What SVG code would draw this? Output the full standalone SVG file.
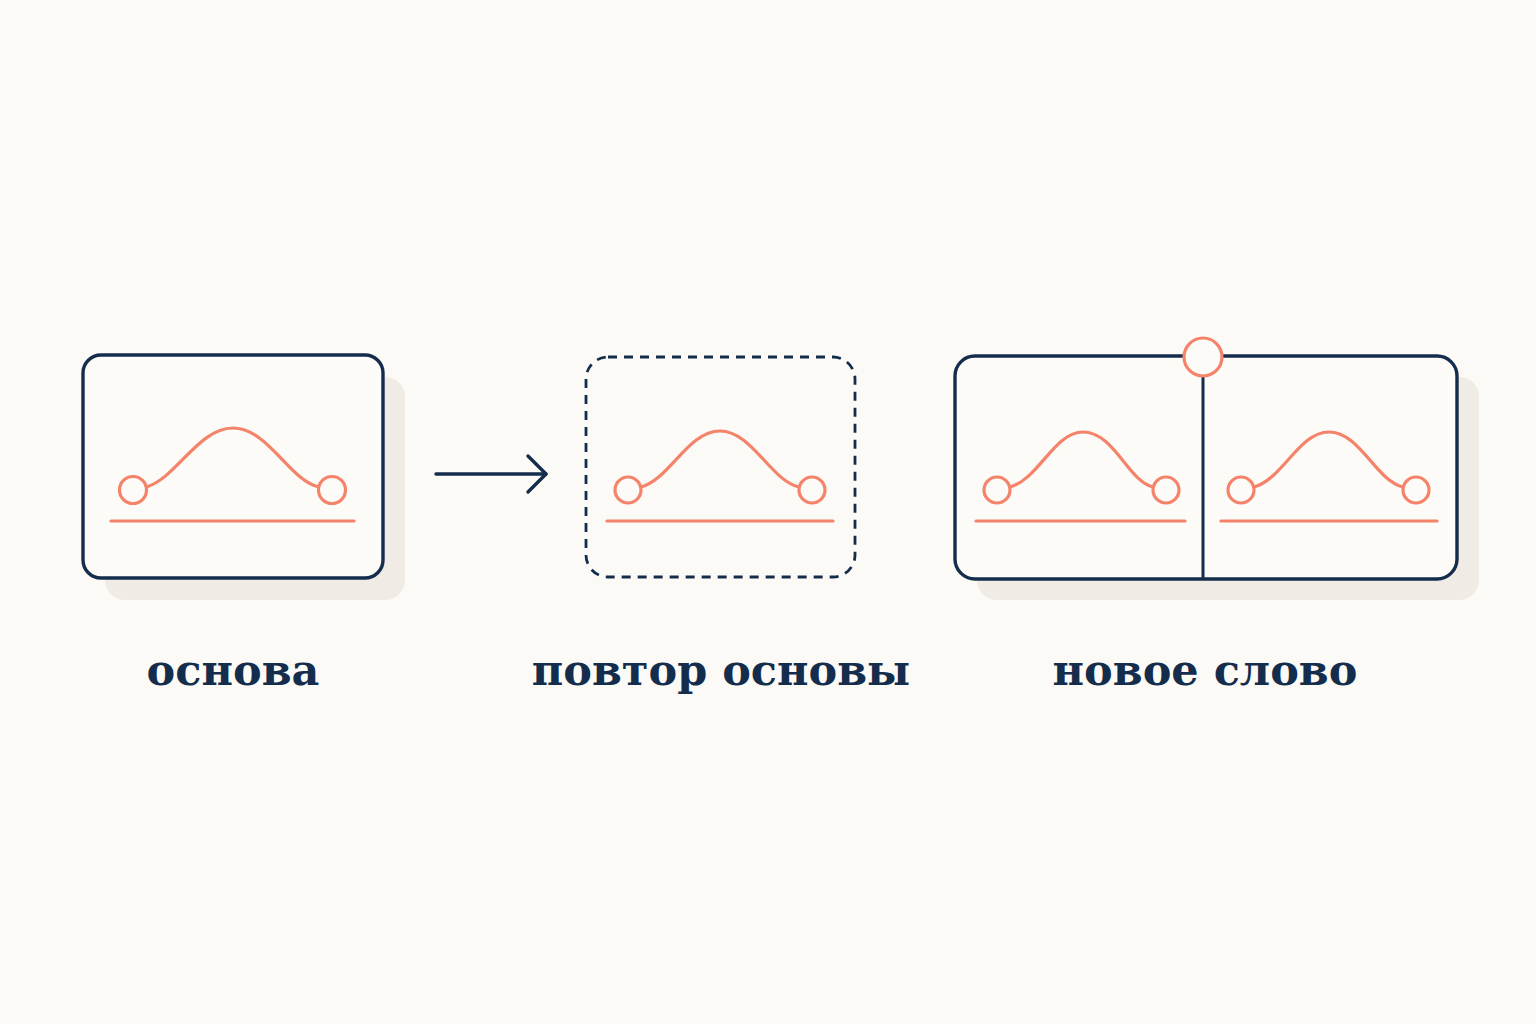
<svg xmlns="http://www.w3.org/2000/svg" width="1536" height="1024" viewBox="0 0 1536 1024">
<style>
.frame{fill:#fcfbf8;stroke:#152d4d;stroke-width:3.4}
.dash{fill:none;stroke:#152d4d;stroke-width:2.8;stroke-dasharray:9 7}
.shadow{fill:#f0ece5}
.coral{fill:none;stroke:#f5836a;stroke-width:3.2;stroke-linecap:round}
.dot{fill:#fcfbf8;stroke:#f5836a;stroke-width:3.2}
.lbl{font-family:"DejaVu Serif","Liberation Serif",serif;font-size:43px;font-weight:bold;fill:#152d4d;text-anchor:middle}
.conn{fill:none;stroke:#152d4d;stroke-width:3.4;stroke-linecap:round;stroke-linejoin:round}
</style>
<rect width="1536" height="1024" fill="#fbfaf6"/>
<g id="node-base">
<rect class="shadow" x="105" y="377" width="300" height="223" rx="20"/>
<rect class="frame" x="83" y="355" width="300" height="223" rx="18"/>
<path class="coral" d="M146,487 C176,479 198,428 233,428 C268,428 290,481 319,487"/>
<circle class="dot" cx="133" cy="490" r="13.5"/>
<circle class="dot" cx="332" cy="490" r="13.5"/>
<line class="coral" x1="111" y1="521" x2="354" y2="521"/>
<text class="lbl" x="233" y="685">основа</text>
</g>
<g id="node-repeat">
<rect class="dash" x="586" y="357" width="269" height="220" rx="22"/>
<path class="coral" d="M641,487 C670,479 688,431 720,431 C752,431 771,481 799,487"/>
<circle class="dot" cx="628" cy="490" r="13"/>
<circle class="dot" cx="812" cy="490" r="13"/>
<line class="coral" x1="607" y1="521" x2="833" y2="521"/>
<text class="lbl" x="721" y="685">повтор основы</text>
</g>
<g id="node-new">
<rect class="shadow" x="977" y="377" width="502" height="223" rx="20"/>
<rect class="frame" x="955" y="356" width="502" height="223" rx="20"/>
<line x1="1203" y1="375" x2="1203" y2="579" stroke="#152d4d" stroke-width="3"/>
<circle class="dot" cx="1203" cy="357" r="19"/>
<path class="coral" d="M1010,487 C1039,479 1054,432 1083,432 C1114,432 1128,481 1153,487"/>
<circle class="dot" cx="997" cy="490" r="13"/>
<circle class="dot" cx="1166" cy="490" r="13"/>
<line class="coral" x1="976" y1="521" x2="1185" y2="521"/>
<path class="coral" d="M1254,487 C1283,479 1299,432 1329,432 C1360,432 1376,481 1403,487"/>
<circle class="dot" cx="1241" cy="490" r="13"/>
<circle class="dot" cx="1416" cy="490" r="13"/>
<line class="coral" x1="1221" y1="521" x2="1437" y2="521"/>
<text class="lbl" x="1205" y="685">новое слово</text>
</g>
<g id="connectors">
<line class="conn" x1="436" y1="474" x2="546" y2="474"/>
<polyline class="conn" points="528,456 546,474 528,492"/>
</g>
</svg>
